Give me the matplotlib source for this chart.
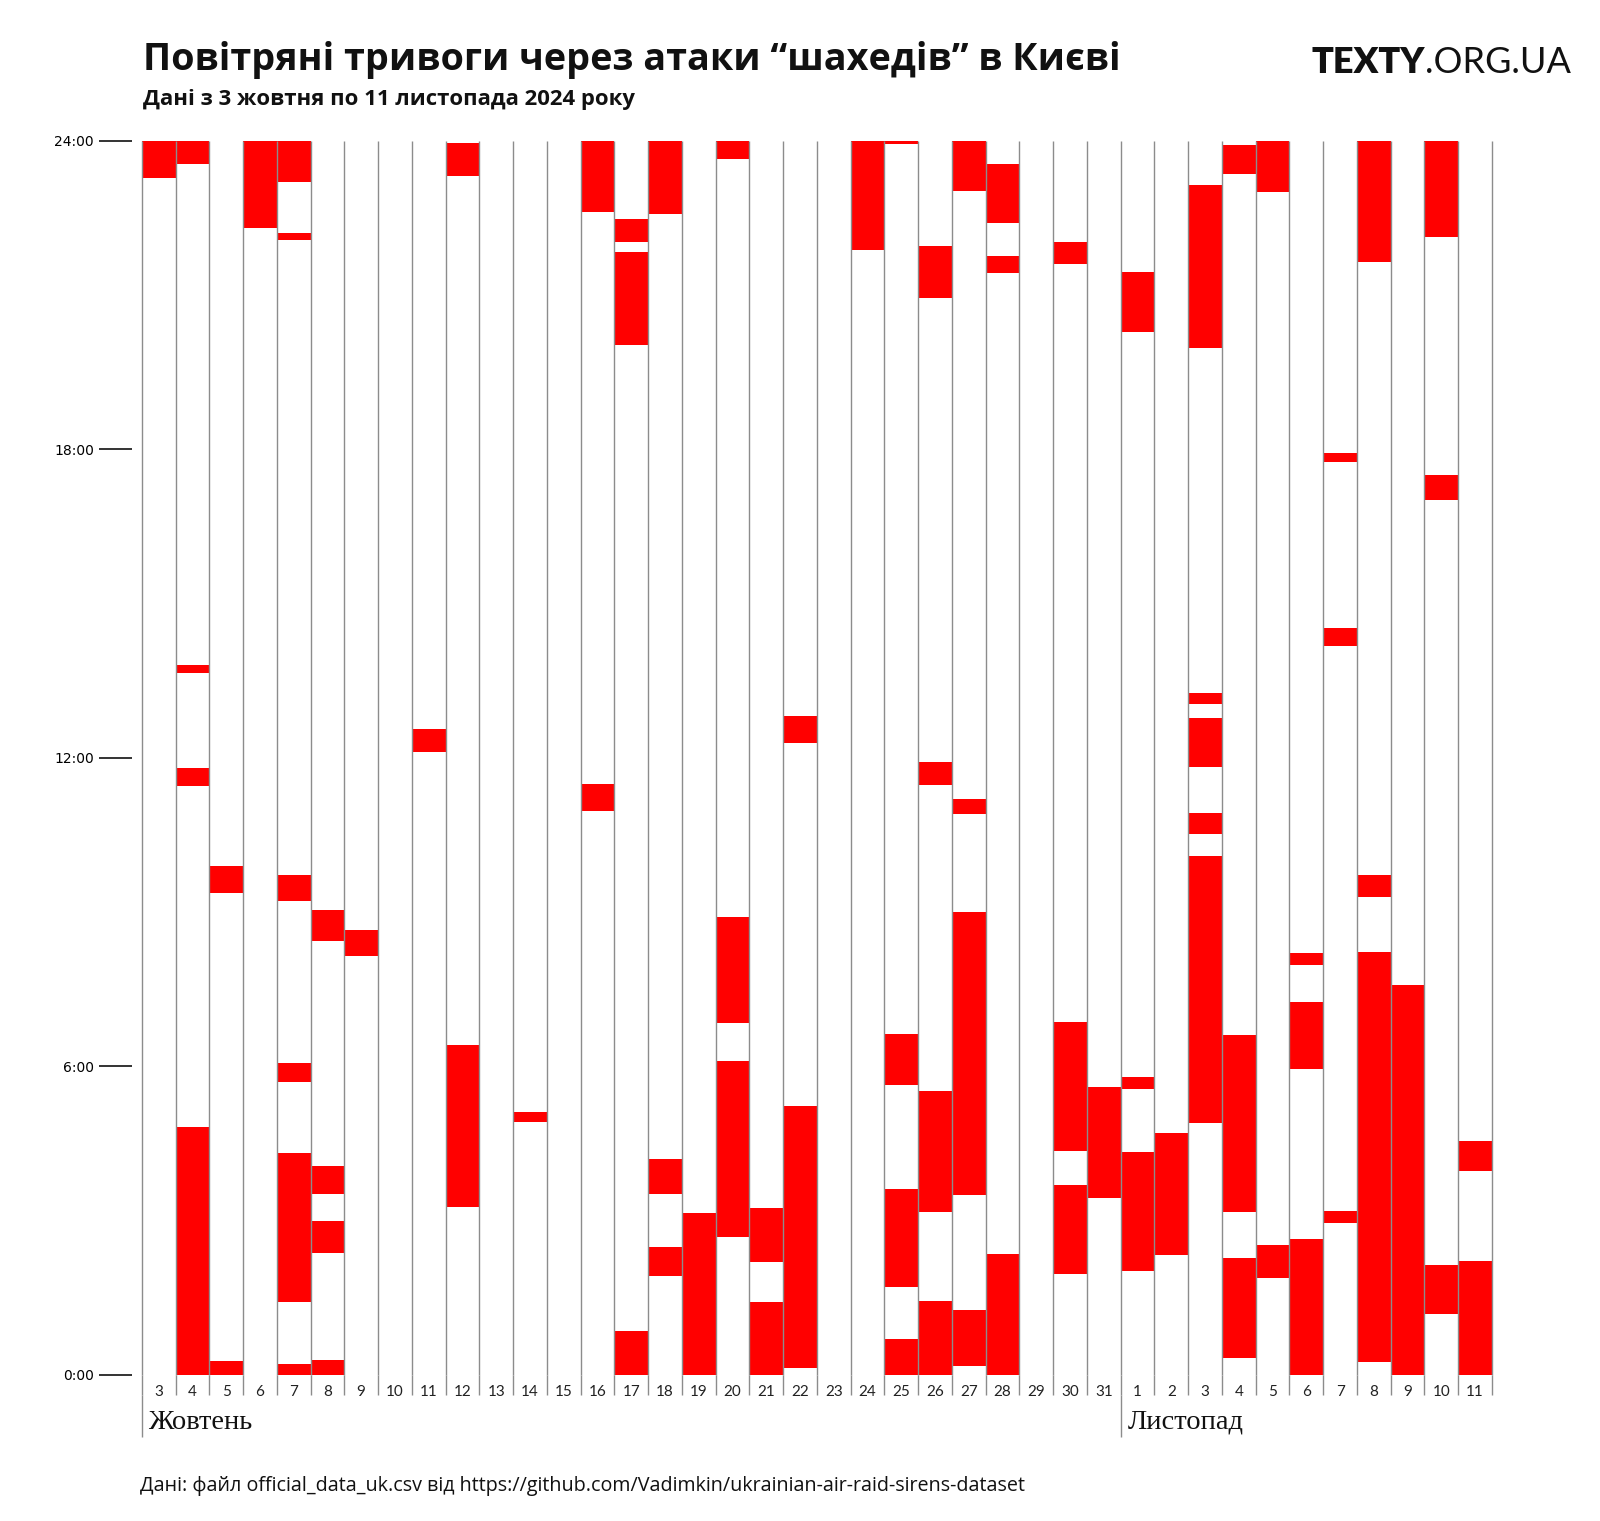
import matplotlib
matplotlib.use("Agg")
import matplotlib.pyplot as plt

# days from 3 Oct to 11 Nov 2024
day_labels = [str(d) for d in range(3, 32)] + [str(d) for d in range(1, 12)]
month_labels = ["Жовтень", "Листопад"]
month_start = [0, 29]

# alarm intervals (hours of the day), one entry per interval
alarm_day = [0,
             1, 1, 1, 1,
             2, 2,
             3,
             4, 4, 4, 4, 4, 4,
             5, 5, 5, 5,
             6,
             8,
             9, 9,
             11,
             13, 13,
             14, 14, 14,
             15, 15, 15,
             16,
             17, 17, 17,
             18, 18,
             19, 19,
             21,
             22, 22, 22, 22,
             23, 23, 23, 23,
             24, 24, 24, 24,
             25, 25, 25,
             27, 27, 27,
             28,
             29, 29, 29,
             30,
             31, 31, 31, 31, 31,
             32, 32, 32,
             33, 33,
             34, 34, 34,
             35, 35, 35,
             36, 36, 36,
             37,
             38, 38, 38,
             39, 39]
alarm_start = [23.27,
               23.54, 13.64, 11.45, 0.0,
               9.37, 0.0,
               22.31,
               23.19, 22.07, 9.21, 5.70, 1.41, 0.0,
               8.44, 3.51, 2.36, 0.0,
               8.14,
               12.11,
               23.32, 3.26,
               4.92,
               22.61, 10.96,
               22.03, 20.03, 0.0,
               22.57, 3.51, 1.91,
               0.0,
               23.64, 6.83, 2.68,
               2.18, 0.0,
               12.29, 0.12,
               21.88,
               23.94, 5.64, 1.71, 0.0,
               20.94, 11.47, 3.16, 0.0,
               23.03, 10.90, 3.49, 0.16,
               22.41, 21.42, 0.0,
               21.60, 4.35, 1.95,
               3.43,
               20.29, 5.56, 2.02,
               2.32,
               19.97, 13.05, 11.82, 10.52, 4.90,
               23.36, 3.16, 0.32,
               23.01, 1.87,
               7.96, 5.94, 0.0,
               17.75, 14.17, 2.94,
               21.64, 9.29, 0.24,
               0.0,
               22.13, 17.01, 1.17,
               3.95, 0.0]
alarm_end = [24.0,
             24.0, 13.80, 11.79, 4.82,
             9.89, 0.26,
             24.0,
             24.0, 22.21, 9.71, 6.07, 4.31, 0.20,
             9.03, 4.05, 2.98, 0.28,
             8.64,
             12.55,
             23.96, 6.41,
             5.10,
             24.0, 11.49,
             22.47, 21.84, 0.85,
             24.0, 4.19, 2.48,
             3.14,
             24.0, 8.91, 6.09,
             3.24, 1.41,
             12.82, 5.22,
             24.0,
             24.0, 6.63, 3.61, 0.69,
             21.96, 11.91, 5.52, 1.43,
             24.0, 11.20, 8.99, 1.25,
             23.54, 21.76, 2.34,
             22.03, 6.85, 3.69,
             5.60,
             21.44, 5.78, 4.33,
             4.70,
             23.15, 13.26, 12.78, 10.92, 10.09,
             23.92, 6.61, 2.26,
             24.0, 2.52,
             8.20, 7.25, 2.64,
             17.93, 14.53, 3.18,
             24.0, 9.71, 8.22,
             7.58,
             24.0, 17.49, 2.14,
             4.55, 2.20]

hour_ticks = [0, 6, 12, 18, 24]
hour_labels = ["0:00", "6:00", "12:00", "18:00", "24:00"]

n_days = len(day_labels)
grey = "#8c8c8c"
sans = ["Lato", "DejaVu Sans"]
head = ["Open Sans", "DejaVu Sans"]

fig = plt.figure(figsize=(16, 15.21), dpi=100)
ax = fig.add_axes([0.0886, 0.0963, 0.8439, 0.8111])

heights = [e - s for s, e in zip(alarm_start, alarm_end)]
ax.bar(alarm_day, heights, bottom=alarm_start, width=1, align="edge",
       color="#ff0000", linewidth=0, zorder=2)

# column borders
ax.vlines(range(n_days + 1), 0, 24, color=grey, linewidth=1, zorder=3,
          clip_on=False)
ax.vlines(range(n_days + 1), -0.4, 0, color=grey, linewidth=1, clip_on=False)
ax.vlines(month_start, -1.22, -0.4, color=grey, linewidth=1, clip_on=False)

for i, lab in enumerate(day_labels):
    ax.text(i + 0.5, -0.34, lab, ha="center", va="center", fontsize=11,
            family=sans, color="#222222")
for m, lab in zip(month_start, month_labels):
    ax.text(m + 0.2, -0.93, lab, ha="left", va="center", fontsize=20.5,
            family=["Liberation Serif", "DejaVu Serif"], color="#111111")

ax.set_xlim(0, n_days)
ax.set_ylim(0, 24)
ax.set_xticks([])
ax.set_yticks(hour_ticks)
ax.set_yticklabels(hour_labels, family=sans, fontsize=12.5, color="#222222")
ax.tick_params(axis="y", length=24, width=1.2, pad=3.5, color="#111111")
for s in ax.spines.values():
    s.set_visible(False)
ax.spines["left"].set_position(("outward", 7))

fig.text(0.0894, 0.9543, "Повітряні тривоги через атаки “шахедів” в Києві",
         fontsize=27.2, fontweight="bold", family=head, color="#111111")
fig.text(0.0894, 0.931, "Дані з 3 жовтня по 11 листопада 2024 року",
         fontsize=15.9, fontweight="bold", family=head, color="#111111")
fig.text(0.0875, 0.0197,
         "Дані: файл official_data_uk.csv від https://github.com/Vadimkin/ukrainian-air-raid-sirens-dataset",
         fontsize=14.2, family=head, color="#111111")

# logo
org = fig.text(0.982, 0.9517, ".ORG.UA", fontsize=26, family=sans,
               ha="right", color="#111111")
fig.canvas.draw()
bb = org.get_window_extent()
fig.text(bb.x0 / fig.bbox.width, 0.9517, "TEXTY", fontsize=26,
         fontweight="heavy", family=sans, ha="right", color="#111111")

fig.savefig("out.png", dpi=100)
